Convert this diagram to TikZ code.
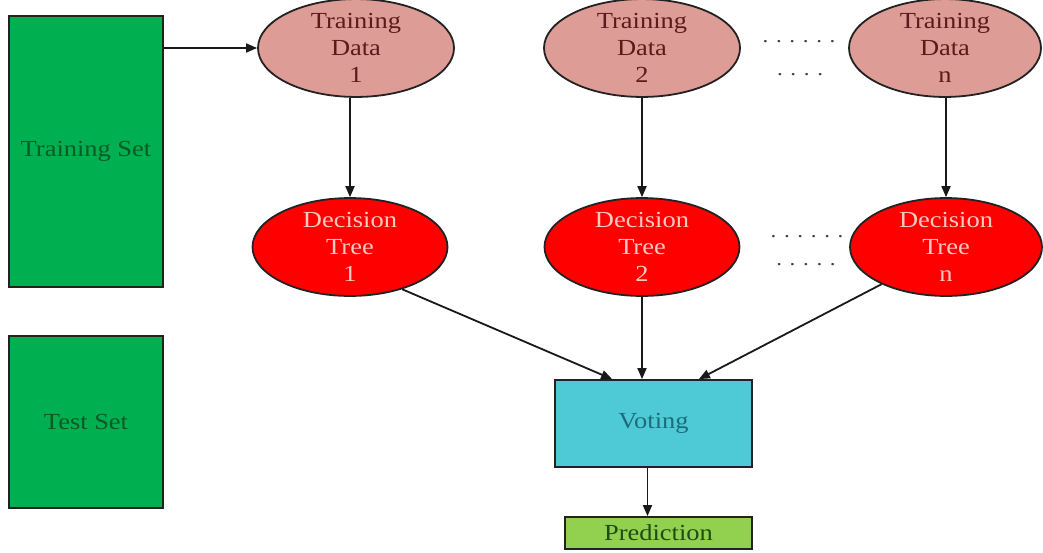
\documentclass[tikz,border=0pt]{standalone}
\usepackage{fontspec}
\setmainfont{Liberation Serif}[FakeStretch=1.15]
\usetikzlibrary{shapes.geometric,arrows.meta}

\definecolor{setgreen}{HTML}{00B050}
\definecolor{setgreentext}{HTML}{0B5A26}
\definecolor{datapink}{HTML}{DE9C96}
\definecolor{datatext}{HTML}{5C1A1A}
\definecolor{treered}{HTML}{FF0000}
\definecolor{treetext}{HTML}{FFC8C0}
\definecolor{votecyan}{HTML}{4ECAD6}
\definecolor{votetext}{HTML}{1C6C7C}
\definecolor{predgreen}{HTML}{92D050}
\definecolor{predtext}{HTML}{1E4D12}
\definecolor{edgedark}{HTML}{222222}

\newcommand\lblfont{\fontsize{23}{27}\selectfont}
\newcommand\dotfont{\fontsize{20}{24}\selectfont}

\begin{document}
\begin{tikzpicture}[x=1pt,y=-1pt,
  setbox/.style={rectangle, draw=edgedark, line width=2pt, fill=setgreen,
    text=setgreentext, inner sep=0pt, font=\lblfont},
  databubble/.style={ellipse, draw=edgedark, line width=1.8pt, fill=datapink,
    text=datatext, inner sep=0pt, align=center, font=\lblfont,
    minimum height=90pt},
  treebubble/.style={ellipse, draw=edgedark, line width=1.8pt, fill=treered,
    text=treetext, inner sep=0pt, align=center, font=\lblfont,
    minimum height=88pt},
  votebox/.style={rectangle, draw=edgedark, line width=1.8pt, fill=votecyan,
    text=votetext, inner sep=0pt, font=\lblfont},
  predbox/.style={rectangle, draw=edgedark, line width=1.8pt, fill=predgreen,
    text=predtext, inner sep=0pt, font=\lblfont},
  dotrow/.style={text=black!75, inner sep=0pt, font=\dotfont},
  arr/.style={draw=black!90, line width=1.8pt, -{Triangle[length=11pt,width=9pt]}}]

\useasboundingbox (0,0) rectangle (1043,552);

% data sets
\node[setbox, minimum width=154pt, minimum height=271pt] (ts) at (86,151.5) {Training Set};
\node[setbox, minimum width=154pt, minimum height=172pt] (tst) at (86,422) {Test Set};

% bootstrap samples
\node[databubble, minimum width=196pt] (td1) at (356,48) {Training\\Data\\1};
\node[databubble, minimum width=196pt] (td2) at (642,48) {Training\\Data\\2};
\node[databubble, minimum width=192pt] (tdn) at (945,48) {Training\\Data\\n};

% trees
\node[treebubble, minimum width=195pt] (dt1) at (350,247) {Decision\\Tree\\1};
\node[treebubble, minimum width=195pt] (dt2) at (642,247) {Decision\\Tree\\2};
\node[treebubble, minimum width=192pt] (dtn) at (946,247) {Decision\\Tree\\n};

% ellipsis marks
\node[dotrow] (dA) at (799,42) {. . . . . .};
\node[dotrow] (dB) at (800,75) {. . . .};
\node[dotrow] (dC) at (807,237) {. . . . . .};
\node[dotrow] (dD) at (806,265) {. . . . .};

% aggregation
\node[votebox, minimum width=197pt, minimum height=87pt] (vote) at (653.5,423.5) {Voting};
\node[predbox, minimum width=187pt, minimum height=32pt] (pred) at (658.5,533) {Prediction};

% connectors
\draw[arr] (ts.east |- td1.west) -- (td1.west);
\draw[arr] (dt1.north |- td1.south) -- (dt1.north);
\draw[arr] (td2.south) -- (dt2.north);
\draw[arr] (dtn.north |- tdn.south) -- (dtn.north);
\draw[arr] (dt1.-39) -- ([xshift=58pt]vote.north west);
\draw[arr] (dt2.south) -- (dt2.south |- vote.north);
\draw[arr] (dtn.210) -- ([xshift=-54pt]vote.north east);
\draw[arr] ([xshift=-6pt]vote.south) -- ([xshift=-6pt]vote.south |- pred.north);
\end{tikzpicture}
\end{document}
